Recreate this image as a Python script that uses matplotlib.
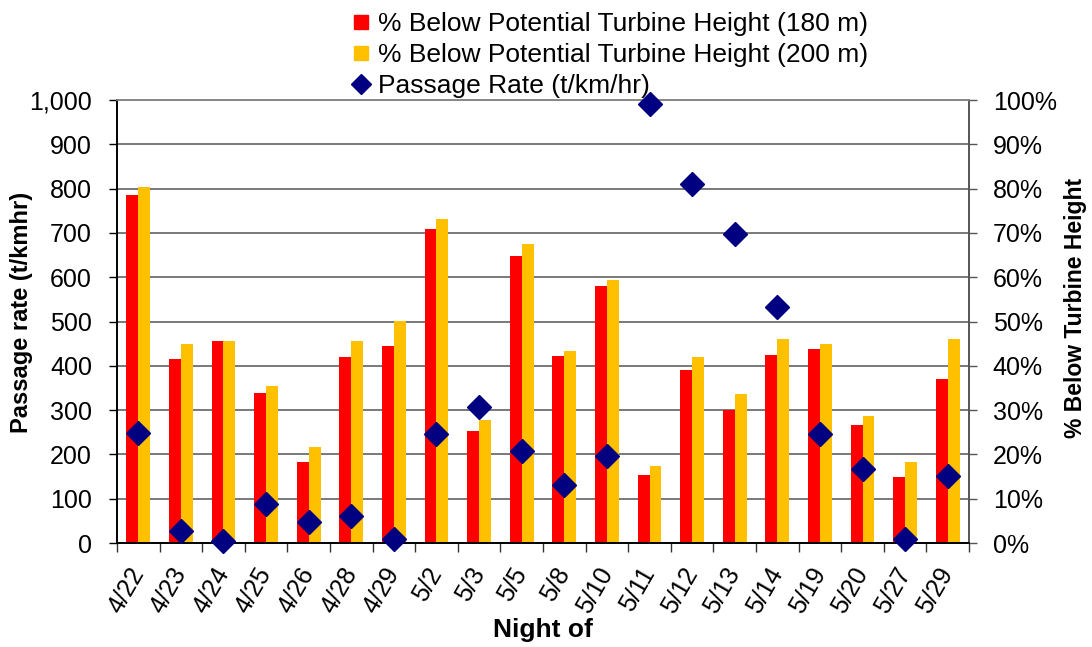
import matplotlib
matplotlib.use("Agg")
import matplotlib.pyplot as plt
from matplotlib.lines import Line2D
import numpy as np

plt.rcParams['font.family'] = ['Liberation Sans', 'DejaVu Sans']

nights = ['4/22', '4/23', '4/24', '4/25', '4/26', '4/28', '4/29', '5/2', '5/3', '5/5',
          '5/8', '5/10', '5/11', '5/12', '5/13', '5/14', '5/19', '5/20', '5/27', '5/29']
pct_180 = [78.5, 41.5, 45.5, 33.8, 18.4, 42.1, 44.5, 70.8, 25.2, 64.8,
           42.2, 58.1, 15.3, 39.1, 30.0, 42.4, 43.8, 26.6, 15.0, 37.0]
pct_200 = [80.4, 44.9, 45.5, 35.4, 21.7, 45.6, 50.1, 73.1, 27.8, 67.5,
           43.4, 59.4, 17.5, 42.1, 33.6, 46.0, 44.9, 28.7, 18.4, 46.0]
passage = [248, 28, 5, 88, 47, 62, 10, 246, 308, 208,
           132, 197, 990, 810, 697, 533, 246, 168, 10, 152]

x = np.arange(len(nights))
w = 0.28

fig = plt.figure(figsize=(10.92, 6.47), dpi=100)
ax = fig.add_axes([0.1071, 0.1607, 0.7803, 0.6847])
ax2 = ax.twinx()

# bars on the percent axis, drawn underneath
ax2.bar(x - w / 2, pct_180, w, color='#FF0000', zorder=2)
ax2.bar(x + w / 2, pct_200, w, color='#FFC000', zorder=2)
ax2.set_ylim(0, 100)
ax2.set_yticks(range(0, 101, 10))
ax2.set_yticklabels([f'{v}%' for v in range(0, 101, 10)])
ax2.yaxis.grid(True, color='#555555', linewidth=1.1)
ax2.set_axisbelow(True)
ax2.set_ylabel('% Below Turbine Height', fontsize=16.5, fontweight='bold')
ax2.yaxis.set_label_coords(1.111, 0.53)

# passage rate diamonds on top
ax.set_zorder(ax2.get_zorder() + 1)
ax.patch.set_visible(False)
ax.plot(x, passage, 'D', color='#000080', ms=12.5, clip_on=False, zorder=5)
ax.set_ylim(0, 1000)
ax.set_yticks(range(0, 1001, 100))
ax.set_yticklabels([f'{v:,}' for v in range(0, 1001, 100)])
ax.set_xlim(-0.5, len(nights) - 0.5)
ax.set_ylabel('Passage rate (t/kmhr)', fontsize=17, fontweight='bold')
ax.yaxis.set_label_coords(-0.098, 0.52)
ax.set_xlabel('Night of', fontsize=19, fontweight='bold', labelpad=0)

ax.set_xticks(x)
ax.set_xticklabels(nights, rotation=60, ha='right', va='center', rotation_mode='anchor')
ax.set_xticks(np.arange(-0.5, len(nights), 1), minor=True)
ax.tick_params(axis='x', which='major', length=0, pad=19, labelsize=18)
ax.tick_params(axis='x', which='minor', length=6.5, width=1, color='#333333')
ax.tick_params(axis='y', length=6, width=1, labelsize=18, pad=12)
ax2.tick_params(axis='y', length=6, width=1, labelsize=18, pad=11, color='#555555')

for a in (ax, ax2):
    a.spines['left'].set_color('black')
    a.spines['bottom'].set_color('black')
    a.spines['right'].set_color('#555555')
    a.spines['top'].set_color('#888888')
    for s in a.spines.values():
        s.set_linewidth(1.2)

handles = [Line2D([], [], marker='s', ls='', color='#FF0000', ms=10),
           Line2D([], [], marker='s', ls='', color='#FFC000', ms=10),
           Line2D([], [], marker='D', ls='', color='#000080', ms=10)]
labels = ['% Below Potential Turbine Height (180 m)',
          '% Below Potential Turbine Height (200 m)',
          'Passage Rate (t/km/hr)']
fig.legend(handles, labels, loc='upper left', bbox_to_anchor=(0.304, 1.014),
           frameon=False, fontsize=19, handlelength=0.6, handletextpad=0.35,
           labelspacing=0.27, borderpad=0.3)

fig.savefig('out.png', dpi=100)
